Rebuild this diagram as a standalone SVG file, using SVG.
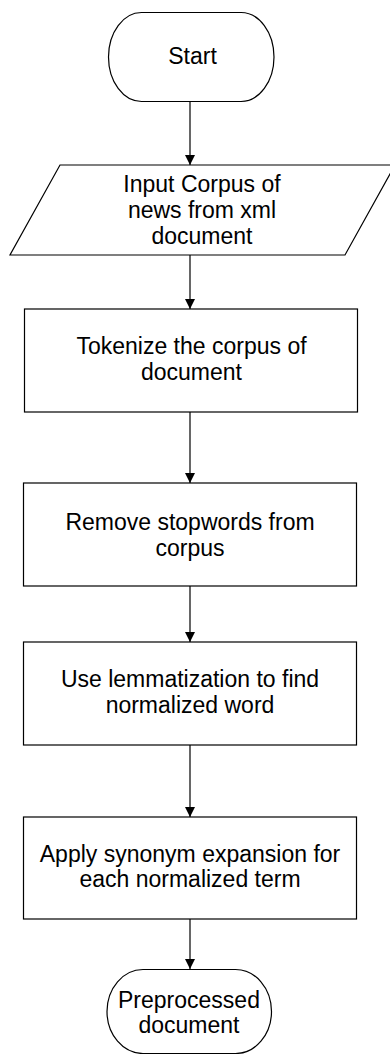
<svg xmlns="http://www.w3.org/2000/svg" width="390" height="1054" viewBox="0 0 390 1054">
<defs>
<style>
.shape{fill:#fff;stroke:#000;stroke-width:1.2}
.lbl{font-family:"Liberation Sans",Arial,sans-serif;font-size:23px;fill:#000;text-anchor:middle}
.conn{stroke:#000;stroke-width:1.2;fill:none}
</style>
<marker id="ah" viewBox="0 0 10 10" refX="10" refY="5" markerWidth="10" markerHeight="10" markerUnits="userSpaceOnUse" orient="auto">
<path d="M0,0 L10,5 L0,10 z" fill="#000"/>
</marker>
</defs>
<rect width="390" height="1054" fill="#fff"/>
<g id="connectors">
<line class="conn" x1="190" y1="101.5" x2="190" y2="165" marker-end="url(#ah)"/>
<line class="conn" x1="190" y1="255" x2="190" y2="309" marker-end="url(#ah)"/>
<line class="conn" x1="190" y1="412" x2="190" y2="483" marker-end="url(#ah)"/>
<line class="conn" x1="190" y1="586" x2="190" y2="642" marker-end="url(#ah)"/>
<line class="conn" x1="190" y1="745" x2="190" y2="817" marker-end="url(#ah)"/>
<line class="conn" x1="190" y1="919" x2="190" y2="969" marker-end="url(#ah)"/>
</g>
<g id="start">
<rect class="shape" x="108.5" y="12.5" width="165.5" height="89" rx="33" ry="44.5"/>
<text class="lbl" x="192.5" y="64">Start</text>
</g>
<g id="input">
<polygon class="shape" points="60,165 395,165 345,255 10,255"/>
<text class="lbl" x="202" y="192">Input Corpus of</text>
<text class="lbl" x="202" y="218">news from xml</text>
<text class="lbl" x="202" y="243.5">document</text>
</g>
<g id="tokenize">
<rect class="shape" x="24.5" y="309" width="333" height="103"/>
<text class="lbl" x="191.5" y="354">Tokenize the corpus of</text>
<text class="lbl" x="191.5" y="380">document</text>
</g>
<g id="stopwords">
<rect class="shape" x="23.5" y="483" width="333" height="103"/>
<text class="lbl" x="190" y="530">Remove stopwords from</text>
<text class="lbl" x="190" y="556">corpus</text>
</g>
<g id="lemmatize">
<rect class="shape" x="23.5" y="642" width="333" height="103"/>
<text class="lbl" x="190" y="687">Use lemmatization to find</text>
<text class="lbl" x="190" y="713">normalized word</text>
</g>
<g id="synonym">
<rect class="shape" x="23.5" y="817" width="333" height="102"/>
<text class="lbl" x="190" y="862">Apply synonym expansion for</text>
<text class="lbl" x="190" y="887">each normalized term</text>
</g>
<g id="end">
<rect class="shape" x="107" y="969.5" width="164.5" height="84" rx="36" ry="42"/>
<text class="lbl" x="189" y="1008">Preprocessed</text>
<text class="lbl" x="189" y="1033">document</text>
</g>
</svg>
